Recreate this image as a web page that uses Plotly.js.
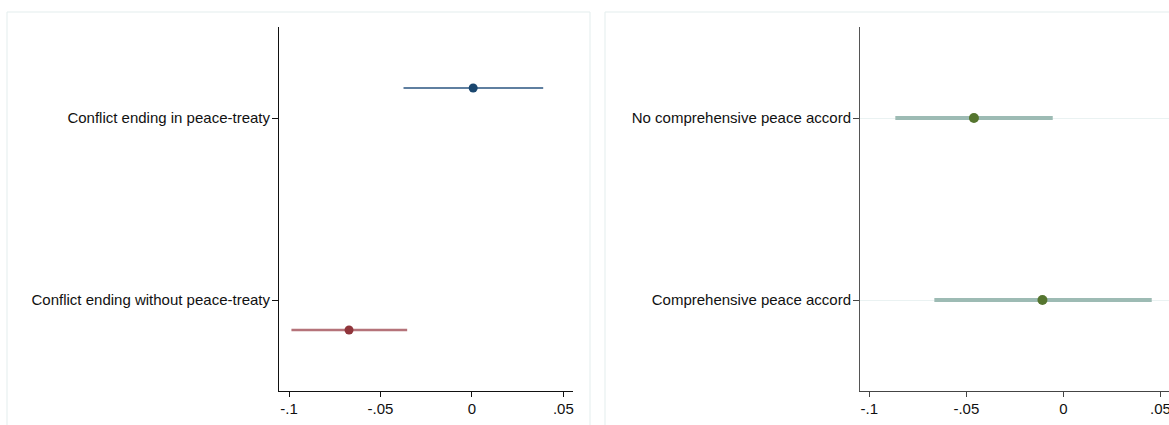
<!DOCTYPE html>
<html>
<head>
<meta charset="utf-8">
<script src="https://cdn.plot.ly/plotly-3.0.1.min.js"></script>
<style>html,body{margin:0;padding:0;background:#fff;}#chart{width:1169px;height:425px;}</style>
</head>
<body>
<div id="chart"></div>
<script>
// ---- data ----
const leftCats = ['Conflict ending in peace-treaty', 'Conflict ending without peace-treaty'];
const leftEst = [0.0007, -0.0672];
const leftLo = [-0.0374, -0.0987];
const leftHi = [0.0390, -0.0354];

const rightCats = ['No comprehensive peace accord', 'Comprehensive peace accord'];
const rightEst = [-0.0461, -0.0108];
const rightLo = [-0.0866, -0.0665];
const rightHi = [-0.0055, 0.0455];

const xTickVals = [-0.1, -0.05, 0, 0.05];
const xTickText = ['-.1', '-.05', '0', '.05'];

// ---- styling ----
const W = 1169, H = 425;
const px = v => v / W;
const py = v => 1 - v / H;
const leftOffsets = [-0.165, 0.165];
const leftColors = [{ci: '#2a5580', mk: '#1a476f', w: 1.6}, {ci: '#b5737a', mk: '#90353b', w: 2.4}];
const font = {family: 'Liberation Sans, Arial, sans-serif', size: 15, color: '#111'};

const traces = [];
leftCats.forEach((c, i) => {
  traces.push({
    type: 'scatter', mode: 'markers', xaxis: 'x', yaxis: 'y',
    x: [leftEst[i]], y: [i + 1 + leftOffsets[i]],
    marker: {color: leftColors[i].mk, size: 9},
    error_x: {type: 'data', symmetric: false,
      array: [leftHi[i] - leftEst[i]], arrayminus: [leftEst[i] - leftLo[i]],
      color: leftColors[i].ci, thickness: leftColors[i].w, width: 0},
    showlegend: false, hoverinfo: 'x'
  });
});
traces.push({
  type: 'scatter', mode: 'markers', xaxis: 'x2', yaxis: 'y2',
  x: rightEst, y: rightCats.map((c, i) => i + 1),
  marker: {color: '#55752f', size: 10},
  error_x: {type: 'data', symmetric: false,
    array: rightHi.map((h, i) => h - rightEst[i]),
    arrayminus: rightEst.map((e, i) => e - rightLo[i]),
    color: '#9dbbb4', thickness: 4, width: 0},
  showlegend: false, hoverinfo: 'x'
});

const xCommon = {
  tickvals: xTickVals, ticktext: xTickText, ticks: 'outside', ticklen: 5,
  tickwidth: 1, showgrid: false, zeroline: false, showline: true, linewidth: 1,
  tickfont: font, ticklabeloverflow: 'allow', ticklabelstandoff: -1
};
const yCommon = {
  range: [2.5, 0.5], tickvals: [1, 2], ticks: 'outside', ticklen: 6, tickwidth: 1,
  zeroline: false, showline: true, linewidth: 1, tickfont: font,
  domain: [py(391), py(27)], ticklabelstandoff: -1
};

const layout = {
  width: W, height: H,
  margin: {l: 0, r: 0, t: 0, b: 0},
  paper_bgcolor: '#fff', plot_bgcolor: 'rgba(0,0,0,0)',
  font: font,
  xaxis: Object.assign({}, xCommon, {domain: [px(279), px(573)], range: [-0.1055, 0.0553],
    anchor: 'y', linecolor: '#111', tickcolor: '#111'}),
  yaxis: Object.assign({}, yCommon, {anchor: 'x', ticktext: leftCats, showgrid: false,
    linecolor: '#111', tickcolor: '#111'}),
  xaxis2: Object.assign({}, xCommon, {domain: [px(860), 1], range: [-0.1048, 0.0544],
    anchor: 'y2', linecolor: '#444', tickcolor: '#444'}),
  yaxis2: Object.assign({}, yCommon, {anchor: 'x2', ticktext: rightCats, showgrid: true,
    gridcolor: '#eaf2f2', gridwidth: 1, linecolor: '#555', tickcolor: '#444'}),
  shapes: [
    {type: 'rect', xref: 'paper', yref: 'paper', x0: px(7), x1: px(590), y0: py(440), y1: py(12),
      line: {color: '#e3eded', width: 1}, fillcolor: 'rgba(0,0,0,0)', layer: 'below'},
    {type: 'rect', xref: 'paper', yref: 'paper', x0: px(605), x1: px(1180), y0: py(440), y1: py(12),
      line: {color: '#e3eded', width: 1}, fillcolor: 'rgba(0,0,0,0)', layer: 'below'}
  ]
};

Plotly.newPlot('chart', traces, layout, {displayModeBar: false, staticPlot: true});
</script>
</body>
</html>
